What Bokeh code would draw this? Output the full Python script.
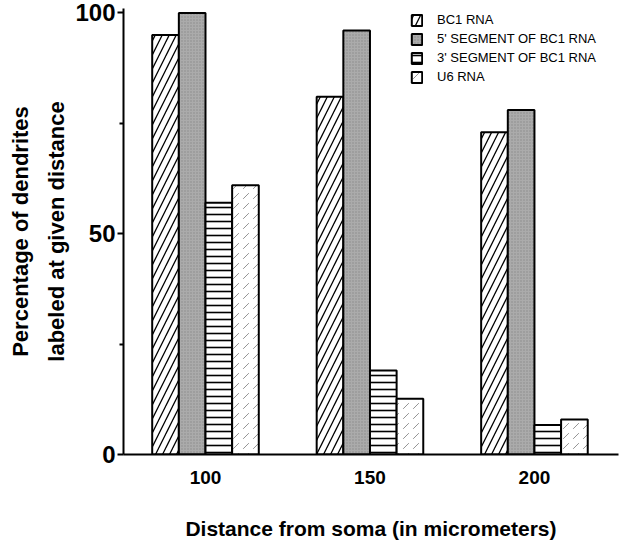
from bokeh.plotting import figure
from bokeh.models import Range1d, FixedTicker, Legend, LegendItem
from bokeh.embed import file_html
from bokeh.resources import INLINE

distances = ["100", "150", "200"]
series_names = ["BC1 RNA", "5' SEGMENT OF BC1 RNA", "3' SEGMENT OF BC1 RNA", "U6 RNA"]
bc1 = [95, 81, 73]
seg5 = [100, 96, 78]
seg3 = [57, 19, 6.7]
u6 = [61, 12.6, 7.9]
y_ticks = [0, 50, 100]
y_minor = [25, 75]

series = [bc1, seg5, seg3, u6]
styles = [
    dict(fill_color="white", hatch_pattern="/", hatch_color="black", hatch_weight=1.3, hatch_scale=14),
    dict(fill_color="#ababab", hatch_pattern=".", hatch_color="#8a8a8a", hatch_weight=0.6, hatch_scale=3),
    dict(fill_color="white", hatch_pattern="-", hatch_color="black", hatch_weight=1.6, hatch_scale=7),
    dict(fill_color="white", hatch_pattern=",", hatch_color="#777777", hatch_weight=0.8, hatch_scale=10),
]

FONT = "Liberation Sans"

p = figure(width=621, height=549, output_backend="svg", toolbar_location=None,
           x_range=Range1d(-0.4985, 2.511), y_range=Range1d(0, 101.0),
           min_border_left=123, min_border_right=3, min_border_top=8, min_border_bottom=95)
p.outline_line_color = None
p.grid.visible = False

bw = 0.162
xs = [0, 1, 2]
items = []
for k, (vals, st) in enumerate(zip(series, styles)):
    off = (k - 1.5) * bw
    r = p.vbar(x=[x + off for x in xs], top=vals, bottom=0, width=bw,
               line_color="black", line_width=2, **st)
    items.append(LegendItem(label=series_names[k], renderers=[r]))

legend = Legend(items=items, location=(287, 370), orientation="vertical",
                border_line_color=None, background_fill_alpha=0,
                glyph_width=13, glyph_height=14, spacing=4, padding=0, margin=0,
                label_standoff=14, label_text_font=FONT, label_text_font_size="13px",
                label_text_color="black", label_height=14)
p.add_layout(legend, "center")

# y axis
ya = p.yaxis[0]
ya.ticker = FixedTicker(ticks=y_ticks, minor_ticks=y_minor)
ya.axis_line_width = 2
ya.axis_line_color = "black"
ya.major_tick_line_width = 2
ya.minor_tick_line_width = 2
ya.major_tick_out = 6
ya.major_tick_in = 0
ya.minor_tick_out = 4
ya.minor_tick_in = 0
ya.major_label_text_font = FONT
ya.major_label_text_font_style = "bold"
ya.major_label_text_font_size = "24px"
ya.major_label_text_color = "black"
ya.major_label_standoff = 2
ya.axis_label = "Percentage of dendrites\nlabeled at given distance"
ya.axis_label_text_font = FONT
ya.axis_label_text_font_style = "bold"
ya.axis_label_text_font_size = "22px"
ya.axis_label_text_line_height = 1.45
ya.axis_label_text_color = "black"
ya.axis_label_standoff = 3

# x axis
xa = p.xaxis[0]
xa.ticker = FixedTicker(ticks=xs)
xa.major_label_overrides = {i: d for i, d in enumerate(distances)}
xa.axis_line_width = 2
xa.axis_line_color = "black"
xa.major_tick_line_color = None
xa.minor_tick_line_color = None
xa.major_tick_out = 0
xa.major_tick_in = 0
xa.minor_tick_out = 0
xa.minor_tick_in = 0
xa.major_label_text_font = FONT
xa.major_label_text_font_style = "bold"
xa.major_label_text_font_size = "19px"
xa.major_label_text_color = "black"
xa.major_label_standoff = 16
xa.axis_label = "Distance from soma (in micrometers)"
xa.axis_label_text_font = FONT
xa.axis_label_text_font_style = "bold"
xa.axis_label_text_font_size = "21px"
xa.axis_label_text_color = "black"
xa.axis_label_standoff = 30

open("out.html", "w").write(file_html(p, INLINE))
